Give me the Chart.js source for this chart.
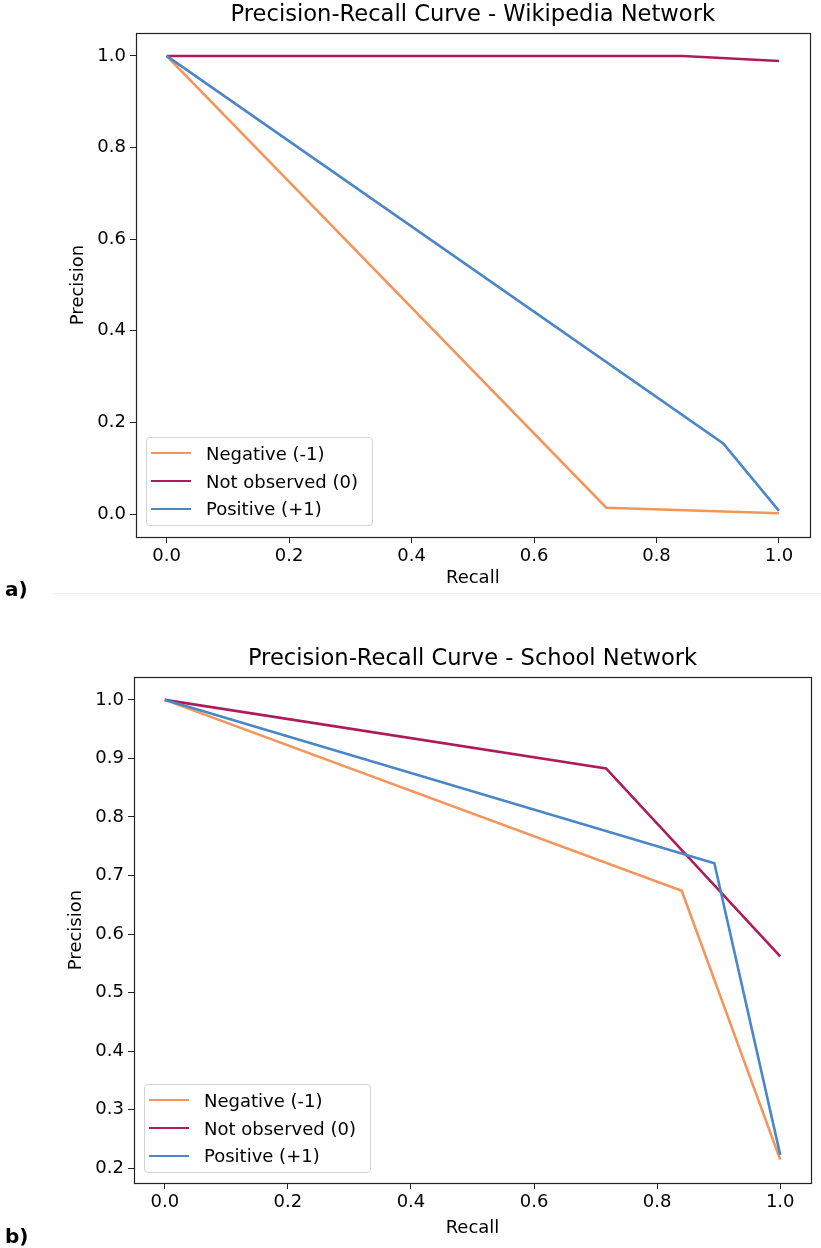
<!DOCTYPE html>
<html>
<head>
<meta charset="utf-8">
<script src="https://cdn.jsdelivr.net/npm/chart.js@4.4.1/dist/chart.umd.min.js"></script>
<style>
  body { margin: 0; background: #fff; width: 821px; height: 1248px; position: relative; overflow: hidden; font-family: 'DejaVu Sans', sans-serif; }
  .panel { position: absolute; left: 0; width: 821px; }
  .legend { position: absolute; box-sizing: border-box; width: 227px; border: 1px solid #d4d4d4; border-radius: 4px;
            background: rgba(255,255,255,0.8); font-size: 18px; color: #000; padding: 1.5px 0 2.5px 0; }
  .row { height: 27.7px; display: flex; align-items: center; white-space: nowrap; }
  .swatch { width: 40px; height: 0; border-top: 2.6px solid; margin-left: 4px; margin-right: 15px; }
  .tag { position: absolute; left: 5px; font-weight: bold; font-size: 20px; line-height: 1; color: #000; }
  .sep { position: absolute; left: 53px; right: 0; top: 593px; height: 1px; background: #eeeeee; }
</style>
</head>
<body>
<div class="panel" style="top:0px;height:600px">
  <canvas id="wiki" width="821" height="600"></canvas>
  <div class="legend" id="legWiki" style="left:146px;top:437px"></div>
</div>
<div class="tag" style="top:579px">a)</div>
<div class="sep"></div>
<div class="panel" style="top:640px;height:608px">
  <canvas id="school" width="821" height="608"></canvas>
  <div class="legend" id="legSchool" style="left:144px;top:444px"></div>
</div>
<div class="tag" style="top:1226px">b)</div>
<script>
const FONT = "'DejaVu Sans', sans-serif";

// tick labels
const xTickVals = [0, 0.2, 0.4, 0.6, 0.8, 1.0];
const wikiYTicks = [0, 0.2, 0.4, 0.6, 0.8, 1.0];
const schoolYTicks = [0.2, 0.3, 0.4, 0.5, 0.6, 0.7, 0.8, 0.9, 1.0];

const seriesNames = ['Negative (-1)', 'Not observed (0)', 'Positive (+1)'];
const seriesColors = ['#f4955b', '#ae1a5a', '#4b86c8'];

// a) Wikipedia network
const wikiRecallNeg = [0, 0.718, 1.0];
const wikiPrecNeg   = [1.0, 0.014, 0.002];
const wikiRecallNot = [0, 0.843, 1.0];
const wikiPrecNot   = [1.0, 1.0, 0.989];
const wikiRecallPos = [0, 0.909, 1.0];
const wikiPrecPos   = [1.0, 0.154, 0.007];

// b) School network
const schoolRecallNeg = [0, 0.840, 1.0];
const schoolPrecNeg   = [1.0, 0.674, 0.215];
const schoolRecallNot = [0, 0.717, 1.0];
const schoolPrecNot   = [1.0, 0.883, 0.562];
const schoolRecallPos = [0, 0.893, 1.0];
const schoolPrecPos   = [1.0, 0.721, 0.223];

function pts(xs, ys) {
  return xs.map((x, i) => ({ x: x, y: ys[i] }));
}

// matplotlib style box round the axes
const framePlugin = {
  id: 'frame',
  afterDatasetsDraw(chart) {
    const ctx = chart.ctx, a = chart.chartArea;
    const l = Math.round(a.left) + 0.5, t = Math.round(a.top) + 0.5;
    const r = Math.round(a.right) + 0.5, b = Math.round(a.bottom) + 0.5;
    ctx.save();
    ctx.strokeStyle = '#222';
    ctx.lineWidth = 1.2;
    ctx.strokeRect(l, t, r - l, b - t);
    ctx.restore();
  }
};

function makeLegend(id) {
  const box = document.getElementById(id);
  seriesNames.forEach((name, i) => {
    const row = document.createElement('div');
    row.className = 'row';
    const sw = document.createElement('span');
    sw.className = 'swatch';
    sw.style.borderColor = seriesColors[i];
    const txt = document.createElement('span');
    txt.textContent = name;
    row.appendChild(sw);
    row.appendChild(txt);
    box.appendChild(row);
  });
}

function buildChart(id, title, curves, yTicks, yMin, yMax, L) {
  const datasets = curves.map((c, i) => ({
    label: seriesNames[i],
    data: pts(c[0], c[1]),
    borderColor: seriesColors[i],
    backgroundColor: seriesColors[i],
    borderWidth: 2.6,
    pointRadius: 0,
    tension: 0,
    order: 3 - i
  }));
  const tickFont = { family: FONT, size: 18 };
  return new Chart(document.getElementById(id), {
    type: 'line',
    data: { datasets: datasets },
    options: {
      responsive: false,
      animation: false,
      layout: { padding: { left: 0, right: L.right, top: 0, bottom: 0 } },
      plugins: {
        legend: { display: false },
        tooltip: { enabled: false },
        title: {
          display: true, text: title, color: '#000', fullSize: false,
          font: { family: FONT, size: 22.6, weight: 'normal' },
          padding: { top: L.titleTop, bottom: L.titleBottom }
        }
      },
      scales: {
        x: {
          type: 'linear', min: -0.05, max: 1.05,
          afterFit: s => { s.height = L.xHeight; },
          afterBuildTicks: s => { s.ticks = xTickVals.map(v => ({ value: v })); },
          ticks: { color: '#000', font: tickFont, padding: 3, maxRotation: 0, callback: v => v.toFixed(1) },
          grid: { drawOnChartArea: false, drawTicks: true, tickLength: 6, tickColor: '#222' },
          border: { display: false },
          title: { display: true, text: 'Recall', color: '#000', font: tickFont, padding: { top: 0, bottom: L.xTitleBottom } }
        },
        y: {
          type: 'linear', min: yMin, max: yMax,
          afterFit: s => { s.width = L.yWidth; },
          afterBuildTicks: s => { s.ticks = yTicks.map(v => ({ value: v })); },
          ticks: { color: '#000', font: tickFont, padding: 4, callback: v => v.toFixed(1) },
          grid: { drawOnChartArea: false, drawTicks: true, tickLength: 6, tickColor: '#222' },
          border: { display: false },
          title: { display: true, text: 'Precision', color: '#000', font: tickFont, padding: { top: L.yTitleLeft, bottom: 0 } }
        }
      }
    },
    plugins: [framePlugin]
  });
}

buildChart('wiki', 'Precision-Recall Curve - Wikipedia Network',
  [[wikiRecallNeg, wikiPrecNeg], [wikiRecallNot, wikiPrecNot], [wikiRecallPos, wikiPrecPos]],
  wikiYTicks, -0.05, 1.05,
  { right: 11.4, titleTop: 1.6, titleBottom: 4.3, xHeight: 63, xTitleBottom: 11, yWidth: 136, yTitleLeft: 68 });

buildChart('school', 'Precision-Recall Curve - School Network',
  [[schoolRecallNeg, schoolPrecNeg], [schoolRecallNot, schoolPrecNot], [schoolRecallPos, schoolPrecPos]],
  schoolYTicks, 0.175, 1.039,
  { right: 10, titleTop: 5.4, titleBottom: 4.5, xHeight: 65, xTitleBottom: 9, yWidth: 134, yTitleLeft: 66 });

makeLegend('legWiki');
makeLegend('legSchool');
</script>
</body>
</html>
